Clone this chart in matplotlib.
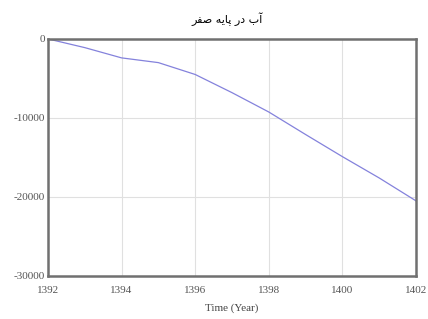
import matplotlib
matplotlib.use('Agg')
import matplotlib.pyplot as plt

years = [1392, 1393, 1394, 1395, 1396, 1397, 1398, 1399, 1400, 1401, 1402]
water = [0, -1100, -2400, -3000, -4500, -6800, -9250, -12100, -14900, -17600, -20500]
x_ticks = [1392, 1394, 1396, 1398, 1400, 1402]
y_ticks = [0, -10000, -20000, -30000]

# title in Persian, written with presentation forms in visual order
title = '\uFEAE\uFED4\uFEBB \uFEEA\uFBFE\uFE8E\uFB58 \uFEAD\uFEA9 \uFE8F\uFE81'

plt.rcParams['font.family'] = ['Liberation Serif', 'DejaVu Sans']
plt.rcParams['axes.unicode_minus'] = False

fig = plt.figure(figsize=(4.28, 3.19), dpi=100)
ax = fig.add_axes([0.112, 0.135, 0.86, 0.743])

ax.plot(years, water, color='#8482dc', lw=0.9)

ax.set_xlim(1392, 1402)
ax.set_ylim(-30000, 0)
ax.set_xticks(x_ticks)
ax.set_yticks(y_ticks)
ax.tick_params(length=0, labelsize=8, colors='#555555')
ax.tick_params(axis='x', pad=7)
ax.tick_params(axis='y', pad=2)
ax.grid(True, color='#e0e0e0', lw=0.8)
for s in ax.spines.values():
    s.set_color('#707070')
    s.set_linewidth(1.8)

ax.set_xlabel('Time (Year)', fontsize=8, color='#444444', labelpad=6)
fig.text(0.53, 0.94, title, ha='center', va='center', fontsize=8,
         family=['DejaVu Sans', 'Noto Sans'])

plt.savefig('out.png', dpi=100)
